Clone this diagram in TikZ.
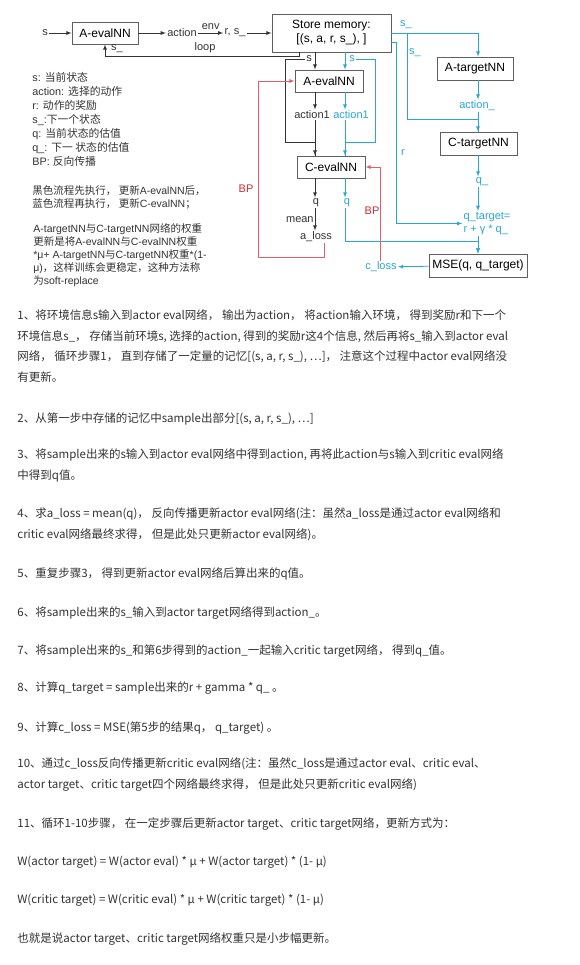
\documentclass[tikz,border=0pt]{standalone}
\usepackage{fontspec}
\setmainfont{Liberation Sans}
\newfontfamily\cjk{Noto Sans CJK SC}
\usetikzlibrary{arrows}
\definecolor{flowblue}{RGB}{41,166,212}
\definecolor{bpred}{RGB}{222,96,108}
\definecolor{bptext}{RGB}{205,45,50}
\definecolor{ink}{RGB}{51,51,51}
\definecolor{boxgray}{RGB}{95,95,95}
\newcommand{\zh}[1]{{\cjk #1}}
\tikzset{
  nnbox/.style={rectangle,draw=boxgray,line width=0.9pt,inner sep=0pt,minimum height=22pt,font=\fontsize{12}{14}\selectfont,text=black},
  lbl/.style={inner sep=1pt,font=\fontsize{11}{13}\selectfont,text=ink},
  bluelbl/.style={lbl,text=flowblue},
  bplbl/.style={lbl,text=bptext},
  legend/.style={anchor=base west,inner sep=0pt,align=left,text=ink},
  para/.style={anchor=base west,inner sep=0pt,align=left,text=ink,font=\fontsize{11.5}{20.7}\selectfont\cjk},
}
\begin{document}
\begin{tikzpicture}[x=1pt,y=-1pt,>=latex,line width=0.8pt]
\fill [white] (0,0) rectangle (579,965);
\useasboundingbox (0,0) rectangle (579,965);
\coordinate (kcol) at (315,0);
\coordinate (bcol) at (345,0);
\coordinate (rcol) at (478,0);
% top row: acting in the environment
\node (s0)     at (45,33)    [lbl] {s};
\node (aeval0) at (105,33)   [nnbox,minimum width=66pt] {A-evalNN};
\node (act0)   at (182,33)   [lbl] {action};
\node (rs)     at (235,33)   [lbl] {r, s\_};
\node (store)  at (331.5,33) [nnbox,minimum width=119pt,minimum height=38pt,align=center] {Store memory:\\ {[}(s, a, r, s\_), ]};
\draw [ink,->] (s0) to (aeval0);
\draw [ink,->] (aeval0) to (act0);
\draw [ink,->] (act0) to node [lbl,above=2pt] {env} (rs);
\draw [ink,->] (rs) to (store);
\coordinate (loopr) at (299,56);
\draw [ink,->] (store.south -| loopr) |- (aeval0.south |- loopr) -- (aeval0.south);
\node (loops)  at (117,49) [lbl] {s\_};
\node (loopl)  at (205,48) [lbl] {loop};
% eval networks
\node (aeval1) at (329,81)  [nnbox,minimum width=68pt] {A-evalNN};
\node (sk)     at (309,59)  [lbl] {s};
\node (sb)     at (352,59)  [bluelbl] {s};
\node (act1k)  at (312,115) [lbl] {action1};
\node (act1b)  at (351,115) [bluelbl] {action1};
\node (ceval)  at (331,167) [nnbox,minimum width=68pt] {C-evalNN};
\draw [ink,->] (store.south -| kcol) -- (aeval1.north -| kcol);
\draw [ink,->] (aeval1.south -| kcol) -- (act1k.north -| kcol);
\draw [ink] (act1k.south -| kcol) -- (ceval.north -| kcol);
\draw [ink,->] (sk.west) -| (285,142) -| (ceval.north -| kcol);
\draw [flowblue,->] (store.south -| bcol) -- (aeval1.north -| bcol);
\draw [flowblue,->] (aeval1.south -| bcol) -- (act1b.north -| bcol);
\draw [flowblue] (act1b.south -| bcol) -- (ceval.north -| bcol);
\draw [flowblue,->] (sb.east) -| (375,142) -| (ceval.north -| bcol);
\node (qk)     at (316,203) [lbl] {q};
\node (aloss)  at (316,237) [lbl] {a\_loss};
\node (qb)     at (347,203) [bluelbl] {q};
\draw [ink,->] (ceval.south -| kcol) -- (qk.north -| kcol);
\draw [ink,->] (qk.south -| kcol) -- node [lbl,left] {mean} (aloss.north -| kcol);
\draw [flowblue,->] (ceval.south -| bcol) -- (qb.north -| bcol);
% target networks
\node (satop)   at (406,25)    [bluelbl] {s\_};
\node (sside)   at (415,53)    [bluelbl] {s\_};
\node (rlbl)    at (403,153)   [bluelbl] {r};
\node (atarget) at (475,68.5)  [nnbox,minimum width=76pt,minimum height=23pt] {A-targetNN};
\node (actt)    at (477,106)   [bluelbl] {action\_};
\node (ctarget) at (478.5,143.5) [nnbox,minimum width=77pt,minimum height=23pt] {C-targetNN};
\node (qq)      at (482,182)   [bluelbl] {q\_};
\node (qtarget) at (487,223.5) [bluelbl,align=left,font=\fontsize{11}{13}\selectfont] {q\_target=\\r + γ * q\_};
\node (mse)     at (478,265.5) [nnbox,minimum width=98pt,minimum height=23pt] {MSE(q, q\_target)};
\node (closs)   at (381,267)   [bluelbl] {c\_loss};
\coordinate (sbr) at (407,33);
\draw [flowblue,->] (store.east) -| (atarget.north -| rcol);
\draw [flowblue,->] (sbr) |- ([yshift=12pt]ctarget.north -| rcol) -- (ctarget.north -| rcol);
\draw [flowblue,->] ([yshift=-9pt]store.east) -- ++(5,0) |- (qtarget.west);
\draw [flowblue,->] (atarget.south -| rcol) -- (actt.north -| rcol);
\draw [flowblue] (actt.south -| rcol) -- (ctarget.north -| rcol);
\draw [flowblue,->] (ctarget.south -| rcol) -- (qq.north -| rcol);
\draw [flowblue,->] (qq.south -| rcol) -- (qtarget.north -| rcol);
\draw [flowblue,->] (qtarget.south -| rcol) -- (mse.north -| rcol);
\draw [flowblue,->] (qb.south -| bcol) |- ([yshift=12pt]mse.north -| rcol) -- (mse.north -| rcol);
\draw [flowblue,->] (mse) to (closs);
% back propagation
\draw [bpred,->] ([xshift=8pt]aloss.south) |- (258,257) |- (aeval1.west);
\draw [bpred,->] (closs.north -| 380,0) |- (ceval.east);
\node (bp1) at (246,189) [bplbl] {BP};
\node (bp2) at (372,211) [bplbl] {BP};
% legend (base = last line)
\node (keys) at (32,166) [legend,font=\fontsize{10.8}{14}\selectfont] {s: \zh{当前状态}\\ action: \zh{选择的动作}\\ r: \zh{动作的奖励}\\ s\_:\zh{下一个状态}\\ q: \zh{当前状态的估值}\\ q\_: \zh{下一 状态的估值}\\ BP: \zh{反向传播}};
\node (order) at (32,208) [legend,font=\fontsize{10.5}{13}\selectfont] {\zh{黑色流程先执行， 更新}A-evalNN\zh{后，}\\ \zh{蓝色流程再执行， 更新}C-evalNN\zh{；}};
\node (soft) at (33,284) [legend,font=\fontsize{10.5}{12.9}\selectfont] {A-targetNN\zh{与}C-targetNN\zh{网络的权重}\\ \zh{更新是将}A-evalNN\zh{与}C-evalNN\zh{权重}\\ *μ+ A-targetNN\zh{与}C-targetNN\zh{权重}*(1-\\ μ)\zh{，这样训练会更稳定，这种方法称}\\ \zh{为}soft-replace};
% steps (base = last line)
\node (step1)  at (17,381.5) [para] {1、将环境信息s输入到actor eval网络， 输出为action， 将action输入环境， 得到奖励r和下一个\\ 环境信息s\_， 存储当前环境s, 选择的action, 得到的奖励r这4个信息, 然后再将s\_输入到actor eval\\ 网络， 循环步骤1， 直到存储了一定量的记忆[(s, a, r, s\_), …]， 注意这个过程中actor eval网络没\\ 有更新。};
\node (step2)  at (17,422.5) [para] {2、从第一步中存储的记忆中sample出部分[(s, a, r, s\_), …]};
\node (step3)  at (17,479.5) [para] {3、将sample出来的s输入到actor eval网络中得到action, 再将此action与s输入到critic eval网络\\ 中得到q值。};
\node (step4)  at (17,538) [para] {4、求a\_loss = mean(q)， 反向传播更新actor eval网络(注：虽然a\_loss是通过actor eval网络和\\ critic eval网络最终求得， 但是此处只更新actor eval网络)。};
\node (step5)  at (17,577.5) [para] {5、重复步骤3， 得到更新actor eval网络后算出来的q值。};
\node (step6)  at (17,616.5) [para] {6、将sample出来的s\_输入到actor target网络得到action\_。};
\node (step7)  at (17,654.5) [para] {7、将sample出来的s\_和第6步得到的action\_一起输入critic target网络， 得到q\_值。};
\node (step8)  at (17,691.5) [para] {8、计算q\_target = sample出来的r + gamma * q\_ 。};
\node (step9)  at (17,731.5) [para] {9、计算c\_loss = MSE(第5步的结果q， q\_target) 。};
\node (step10) at (17,788.5) [para] {10、通过c\_loss反向传播更新critic eval网络(注：虽然c\_loss是通过actor eval、critic eval、\\ actor target、critic target四个网络最终求得， 但是此处只更新critic eval网络)};
\node (step11) at (17,827.5) [para] {11、循环1-10步骤， 在一定步骤后更新actor target、critic target网络，更新方式为：};
\node (wactor)  at (17,865.5) [para] {W(actor target) = W(actor eval) * μ + W(actor target) * (1- μ)};
\node (wcritic) at (17,903.5) [para] {W(critic target) = W(critic eval) * μ + W(critic target) * (1- μ)};
\node (summary) at (17,942.5) [para] {也就是说actor target、critic target网络权重只是小步幅更新。};
\end{tikzpicture}
\end{document}
